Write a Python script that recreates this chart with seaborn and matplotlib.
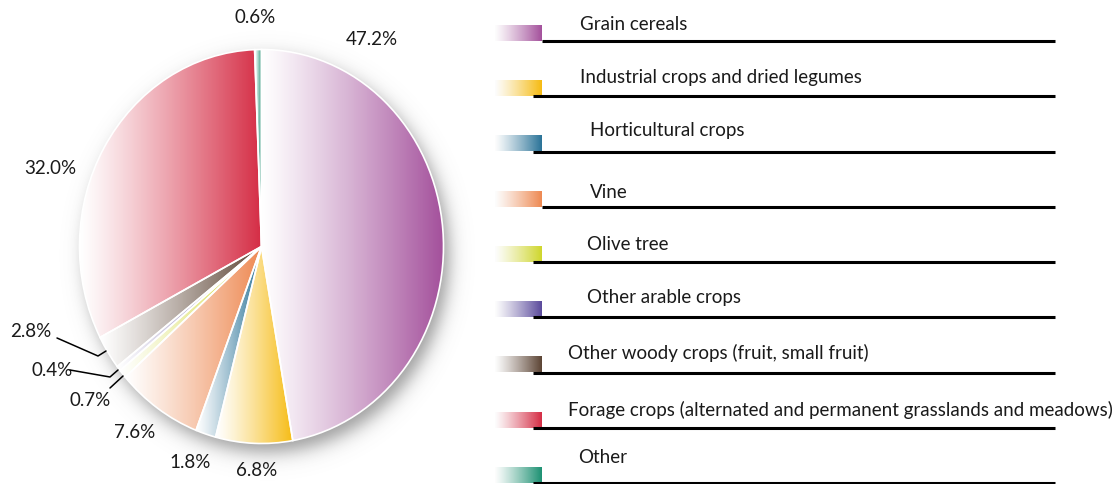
import numpy as np
import matplotlib
matplotlib.use("Agg")
import matplotlib.pyplot as plt
import seaborn as sns

# ------------------------------------------------------------------
# Data
# ------------------------------------------------------------------
categories = [
    "Grain cereals",
    "Industrial crops and dried legumes",
    "Horticultural crops",
    "Vine",
    "Olive tree",
    "Other arable crops",
    "Other woody crops (fruit, small fruit)",
    "Forage crops (alternated and permanent grasslands and meadows)",
    "Other",
]
shares = [47.2, 6.8, 1.8, 7.6, 0.7, 0.4, 2.8, 32.0, 0.6]
pct_labels = [f"{v:.1f}%" for v in shares]
colors = ["#a4519c", "#f6bb12", "#2a7398", "#ee8952", "#cfd62c",
          "#5a4a9c", "#5c4434", "#d52d45", "#1d9173"]

# ------------------------------------------------------------------
# Layout (figure pixels, origin top-left)
# ------------------------------------------------------------------
W, H = 1112, 485
CX, CY, RX, RY = 261.5, 247.5, 182, 197      # pie centre / radii
label_px = [(372, 39), (257, 471), (190, 463), (135, 433), (90, 400),
            (52, 371), (31, 332), (50, 168), (255, 18)]
leaders_px = {
    6: [(57, 339), (98, 357), (106, 352)],
    5: [(70, 371), (110, 378), (118, 371)],
    4: [(110, 389), (123, 377)],
}
leg_text_px = [(580, 24), (580, 78), (590, 131), (590, 193), (587, 245),
               (587, 298), (568, 353), (568, 410), (578, 458)]
leg_line_x0 = [542, 533, 533, 542, 533, 533, 533, 533, 533]
ROW0, ROW_STEP = 42, 55.25
FS = 13.5


def to_data(px, py):
    return (px - CX) / RX, (CY - py) / RY


sns.set_theme(style="white")
plt.rcParams["font.family"] = ["Lato", "DejaVu Sans"]
TXT = "#1a1a1a"

fig = plt.figure(figsize=(W / 100, H / 100), dpi=100)
fig.patch.set_facecolor("white")

# ------------------------------------------------------------------
# Pie
# ------------------------------------------------------------------
ax = fig.add_axes([0, 0, 480 / W, 1])
xlim = (-CX / RX, (480 - CX) / RX)
ylim = (-(H - CY) / RY, CY / RY)

# soft drop shadow
gx = np.linspace(*xlim, 480)
gy = np.linspace(ylim[1], ylim[0], H)
X, Y = np.meshgrid(gx, gy)
dist = (np.hypot(X - 6 / RX, Y + 9 / RY) - 1.0) * 190
shadow = np.zeros(X.shape + (4,))
shadow[..., :3] = 0.35
shadow[..., 3] = 0.6 / (1 + np.exp(dist / 5.5))
ax.imshow(shadow, extent=[*xlim, *ylim], aspect="auto", zorder=1)

wedges, _ = ax.pie(shares, colors=colors, startangle=90, counterclock=False,
                   wedgeprops=dict(edgecolor="white", linewidth=1.2))
ramp = np.linspace(0, 1, 256)[None, :] ** 1.15
for w, c in zip(wedges, colors):
    cmap = sns.blend_palette(["white", c], as_cmap=True)
    bb = w.get_path().get_extents()
    im = ax.imshow(ramp, cmap=cmap, extent=[bb.x0, bb.x1, bb.y0, bb.y1],
                   aspect="auto", zorder=2, interpolation="bilinear")
    im.set_clip_path(w)
    w.set_facecolor("none")
    w.set_zorder(3)

for lab, (px, py) in zip(pct_labels, label_px):
    ax.text(*to_data(px, py), lab, ha="center", va="center",
            fontsize=FS, color=TXT, zorder=5)
for pts in leaders_px.values():
    xs, ys = zip(*[to_data(*p) for p in pts])
    ax.plot(xs, ys, color="black", lw=1.1, zorder=5, clip_on=False)

ax.set_aspect("auto")
ax.set_xlim(*xlim)
ax.set_ylim(*ylim)
ax.axis("off")

# ------------------------------------------------------------------
# Legend (gradient swatches + underlines)
# ------------------------------------------------------------------
lg = fig.add_axes([480 / W, 0, 1 - 480 / W, 1])
for i, (name, c) in enumerate(zip(categories, colors)):
    ly = ROW0 + ROW_STEP * i
    cmap = sns.blend_palette(["#fdfdfd", c], as_cmap=True)
    lg.imshow(ramp, cmap=cmap, extent=[495, 542, ly, ly - 16],
              aspect="auto", interpolation="bilinear")
    lg.plot([leg_line_x0[i], 1055], [ly, ly], color="black", lw=2.2,
            solid_capstyle="butt")
    tx, ty = leg_text_px[i]
    lg.text(tx, ty, name, ha="left", va="center", fontsize=FS, color=TXT)
lg.set_xlim(480, W)
lg.set_ylim(H, 0)
lg.set_aspect("auto")
lg.axis("off")

fig.savefig("out.png", dpi=100, facecolor="white")
